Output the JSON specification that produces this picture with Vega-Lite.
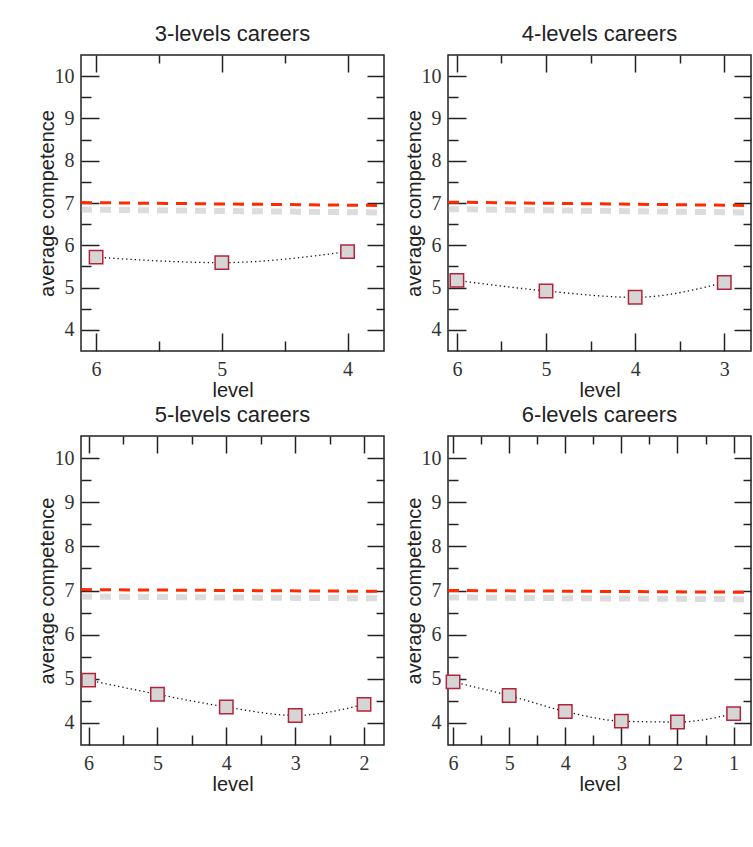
{
  "$schema": "https://vega.github.io/schema/vega-lite/v6.json",
  "background": "white",
  "padding": {"left": 36, "top": 22, "right": 0, "bottom": 0},
  "datasets": {
    "pts": [
      {"panel": 3, "level": 6, "comp": 5.72}, {"panel": 3, "level": 5, "comp": 5.59}, {"panel": 3, "level": 4, "comp": 5.85},
      {"panel": 4, "level": 6, "comp": 5.17}, {"panel": 4, "level": 5, "comp": 4.92}, {"panel": 4, "level": 4, "comp": 4.77}, {"panel": 4, "level": 3, "comp": 5.12},
      {"panel": 5, "level": 6, "comp": 4.97}, {"panel": 5, "level": 5, "comp": 4.65}, {"panel": 5, "level": 4, "comp": 4.36}, {"panel": 5, "level": 3, "comp": 4.17}, {"panel": 5, "level": 2, "comp": 4.42},
      {"panel": 6, "level": 6, "comp": 4.93}, {"panel": 6, "level": 5, "comp": 4.62}, {"panel": 6, "level": 4, "comp": 4.26}, {"panel": 6, "level": 3, "comp": 4.04}, {"panel": 6, "level": 2, "comp": 4.02}, {"panel": 6, "level": 1, "comp": 4.21}
    ],
    "ref": [
      {"panel": 3, "level": 6.12, "comp": 7.01}, {"panel": 3, "level": 3.71, "comp": 6.94},
      {"panel": 4, "level": 6.10, "comp": 7.02}, {"panel": 4, "level": 2.70, "comp": 6.94},
      {"panel": 5, "level": 6.11, "comp": 7.02}, {"panel": 5, "level": 1.71, "comp": 6.98},
      {"panel": 6, "level": 6.09, "comp": 7.00}, {"panel": 6, "level": 0.69, "comp": 6.96}
    ]
  },
  "columns": 2,
  "spacing": {"row": 2, "column": 17},
  "concat": [
    {
      "title": "3-levels careers",
      "width": 303, "height": 296,
      "resolve": {"axis": {"x": "independent", "y": "independent"}},
      "layer": [
        {
          "data": {"name": "ref"}, "transform": [{"filter": "datum.panel === 3"}],
          "mark": {"type": "line", "stroke": "#9a9a9a", "strokeWidth": 6, "opacity": 0.35, "strokeDash": [11, 8], "yOffset": 7, "clip": true},
          "encoding": {
            "x": {"field": "level", "type": "quantitative", "scale": {"domain": [3.71, 6.12], "reverse": true, "nice": false, "zero": false},
                  "axis": {"orient": "bottom", "values": [6, 5, 4], "tickSize": -18, "labelPadding": 26, "title": "level", "titlePadding": 1, "format": "d", "labelFlush": false}},
            "y": {"field": "comp", "type": "quantitative", "scale": {"domain": [3.5, 10.5], "nice": false, "zero": false},
                  "axis": {"orient": "left", "values": [4, 5, 6, 7, 8, 9, 10], "tickSize": -18, "labelPadding": 25, "title": "average competence", "titlePadding": -3, "format": "d", "labelFlush": false}}
          }
        },
        {
          "data": {"name": "ref"}, "transform": [{"filter": "datum.panel === 3"}],
          "mark": {"type": "line", "stroke": "#ff2a00", "strokeWidth": 3, "strokeDash": [11, 8], "clip": true},
          "encoding": {
            "x": {"field": "level", "type": "quantitative", "scale": {"domain": [3.71, 6.12], "reverse": true, "nice": false, "zero": false},
                  "axis": {"orient": "bottom", "values": [5.5, 4.5], "tickSize": -10, "labels": false, "title": null}},
            "y": {"field": "comp", "type": "quantitative", "scale": {"domain": [3.5, 10.5], "nice": false, "zero": false},
                  "axis": {"orient": "left", "values": [4.5, 5.5, 6.5, 7.5, 8.5, 9.5], "tickSize": -10, "labels": false, "title": null}}
          }
        },
        {
          "data": {"name": "pts"}, "transform": [{"filter": "datum.panel === 3"}],
          "mark": {"type": "line", "stroke": "#111", "strokeWidth": 1.3, "strokeDash": [1.3, 3], "interpolate": "monotone"},
          "encoding": {
            "x": {"field": "level", "type": "quantitative", "scale": {"domain": [3.71, 6.12], "reverse": true, "nice": false, "zero": false},
                  "axis": {"orient": "top", "values": [6, 5, 4], "tickSize": -17, "labels": false, "title": null}},
            "y": {"field": "comp", "type": "quantitative", "scale": {"domain": [3.5, 10.5], "nice": false, "zero": false},
                  "axis": {"orient": "right", "values": [4, 5, 6, 7, 8, 9, 10], "tickSize": -17, "labels": false, "title": null}}
          }
        },
        {
          "data": {"name": "pts"}, "transform": [{"filter": "datum.panel === 3"}],
          "mark": {"type": "point", "shape": "square", "filled": true, "fill": "#d5d5d5", "stroke": "#b3243a", "strokeWidth": 1.5, "size": 180, "opacity": 1},
          "encoding": {
            "x": {"field": "level", "type": "quantitative", "scale": {"domain": [3.71, 6.12], "reverse": true, "nice": false, "zero": false},
                  "axis": {"orient": "top", "values": [5.5, 4.5], "tickSize": -8, "labels": false, "title": null}},
            "y": {"field": "comp", "type": "quantitative", "scale": {"domain": [3.5, 10.5], "nice": false, "zero": false},
                  "axis": {"orient": "right", "values": [4.5, 5.5, 6.5, 7.5, 8.5, 9.5], "tickSize": -8, "labels": false, "title": null}}
          }
        }
      ]
    },
    {
      "title": "4-levels careers",
      "width": 303, "height": 296,
      "resolve": {"axis": {"x": "independent", "y": "independent"}},
      "layer": [
        {
          "data": {"name": "ref"}, "transform": [{"filter": "datum.panel === 4"}],
          "mark": {"type": "line", "stroke": "#9a9a9a", "strokeWidth": 6, "opacity": 0.35, "strokeDash": [11, 8], "yOffset": 7, "clip": true},
          "encoding": {
            "x": {"field": "level", "type": "quantitative", "scale": {"domain": [2.70, 6.10], "reverse": true, "nice": false, "zero": false},
                  "axis": {"orient": "bottom", "values": [6, 5, 4, 3], "tickSize": -18, "labelPadding": 26, "title": "level", "titlePadding": 1, "format": "d", "labelFlush": false}},
            "y": {"field": "comp", "type": "quantitative", "scale": {"domain": [3.5, 10.5], "nice": false, "zero": false},
                  "axis": {"orient": "left", "values": [4, 5, 6, 7, 8, 9, 10], "tickSize": -18, "labelPadding": 25, "title": "average competence", "titlePadding": -3, "format": "d", "labelFlush": false}}
          }
        },
        {
          "data": {"name": "ref"}, "transform": [{"filter": "datum.panel === 4"}],
          "mark": {"type": "line", "stroke": "#ff2a00", "strokeWidth": 3, "strokeDash": [11, 8], "clip": true},
          "encoding": {
            "x": {"field": "level", "type": "quantitative", "scale": {"domain": [2.70, 6.10], "reverse": true, "nice": false, "zero": false},
                  "axis": {"orient": "bottom", "values": [5.5, 4.5, 3.5], "tickSize": -10, "labels": false, "title": null}},
            "y": {"field": "comp", "type": "quantitative", "scale": {"domain": [3.5, 10.5], "nice": false, "zero": false},
                  "axis": {"orient": "left", "values": [4.5, 5.5, 6.5, 7.5, 8.5, 9.5], "tickSize": -10, "labels": false, "title": null}}
          }
        },
        {
          "data": {"name": "pts"}, "transform": [{"filter": "datum.panel === 4"}],
          "mark": {"type": "line", "stroke": "#111", "strokeWidth": 1.3, "strokeDash": [1.3, 3], "interpolate": "monotone"},
          "encoding": {
            "x": {"field": "level", "type": "quantitative", "scale": {"domain": [2.70, 6.10], "reverse": true, "nice": false, "zero": false},
                  "axis": {"orient": "top", "values": [6, 5, 4, 3], "tickSize": -17, "labels": false, "title": null}},
            "y": {"field": "comp", "type": "quantitative", "scale": {"domain": [3.5, 10.5], "nice": false, "zero": false},
                  "axis": {"orient": "right", "values": [4, 5, 6, 7, 8, 9, 10], "tickSize": -17, "labels": false, "title": null}}
          }
        },
        {
          "data": {"name": "pts"}, "transform": [{"filter": "datum.panel === 4"}],
          "mark": {"type": "point", "shape": "square", "filled": true, "fill": "#d5d5d5", "stroke": "#b3243a", "strokeWidth": 1.5, "size": 180, "opacity": 1},
          "encoding": {
            "x": {"field": "level", "type": "quantitative", "scale": {"domain": [2.70, 6.10], "reverse": true, "nice": false, "zero": false},
                  "axis": {"orient": "top", "values": [5.5, 4.5, 3.5], "tickSize": -8, "labels": false, "title": null}},
            "y": {"field": "comp", "type": "quantitative", "scale": {"domain": [3.5, 10.5], "nice": false, "zero": false},
                  "axis": {"orient": "right", "values": [4.5, 5.5, 6.5, 7.5, 8.5, 9.5], "tickSize": -8, "labels": false, "title": null}}
          }
        }
      ]
    },
    {
      "title": "5-levels careers",
      "width": 303, "height": 309,
      "resolve": {"axis": {"x": "independent", "y": "independent"}},
      "layer": [
        {
          "data": {"name": "ref"}, "transform": [{"filter": "datum.panel === 5"}],
          "mark": {"type": "line", "stroke": "#9a9a9a", "strokeWidth": 6, "opacity": 0.35, "strokeDash": [11, 8], "yOffset": 7, "clip": true},
          "encoding": {
            "x": {"field": "level", "type": "quantitative", "scale": {"domain": [1.71, 6.11], "reverse": true, "nice": false, "zero": false},
                  "axis": {"orient": "bottom", "values": [6, 5, 4, 3, 2], "tickSize": -18, "labelPadding": 26, "title": "level", "titlePadding": 1, "format": "d", "labelFlush": false}},
            "y": {"field": "comp", "type": "quantitative", "scale": {"domain": [3.5, 10.5], "nice": false, "zero": false},
                  "axis": {"orient": "left", "values": [4, 5, 6, 7, 8, 9, 10], "tickSize": -18, "labelPadding": 25, "title": "average competence", "titlePadding": -3, "format": "d", "labelFlush": false}}
          }
        },
        {
          "data": {"name": "ref"}, "transform": [{"filter": "datum.panel === 5"}],
          "mark": {"type": "line", "stroke": "#ff2a00", "strokeWidth": 3, "strokeDash": [11, 8], "clip": true},
          "encoding": {
            "x": {"field": "level", "type": "quantitative", "scale": {"domain": [1.71, 6.11], "reverse": true, "nice": false, "zero": false},
                  "axis": {"orient": "bottom", "values": [5.5, 4.5, 3.5, 2.5], "tickSize": -10, "labels": false, "title": null}},
            "y": {"field": "comp", "type": "quantitative", "scale": {"domain": [3.5, 10.5], "nice": false, "zero": false},
                  "axis": {"orient": "left", "values": [4.5, 5.5, 6.5, 7.5, 8.5, 9.5], "tickSize": -10, "labels": false, "title": null}}
          }
        },
        {
          "data": {"name": "pts"}, "transform": [{"filter": "datum.panel === 5"}],
          "mark": {"type": "line", "stroke": "#111", "strokeWidth": 1.3, "strokeDash": [1.3, 3], "interpolate": "monotone"},
          "encoding": {
            "x": {"field": "level", "type": "quantitative", "scale": {"domain": [1.71, 6.11], "reverse": true, "nice": false, "zero": false},
                  "axis": {"orient": "top", "values": [6, 5, 4, 3, 2], "tickSize": -17, "labels": false, "title": null}},
            "y": {"field": "comp", "type": "quantitative", "scale": {"domain": [3.5, 10.5], "nice": false, "zero": false},
                  "axis": {"orient": "right", "values": [4, 5, 6, 7, 8, 9, 10], "tickSize": -17, "labels": false, "title": null}}
          }
        },
        {
          "data": {"name": "pts"}, "transform": [{"filter": "datum.panel === 5"}],
          "mark": {"type": "point", "shape": "square", "filled": true, "fill": "#d5d5d5", "stroke": "#b3243a", "strokeWidth": 1.5, "size": 180, "opacity": 1},
          "encoding": {
            "x": {"field": "level", "type": "quantitative", "scale": {"domain": [1.71, 6.11], "reverse": true, "nice": false, "zero": false},
                  "axis": {"orient": "top", "values": [5.5, 4.5, 3.5, 2.5], "tickSize": -8, "labels": false, "title": null}},
            "y": {"field": "comp", "type": "quantitative", "scale": {"domain": [3.5, 10.5], "nice": false, "zero": false},
                  "axis": {"orient": "right", "values": [4.5, 5.5, 6.5, 7.5, 8.5, 9.5], "tickSize": -8, "labels": false, "title": null}}
          }
        }
      ]
    },
    {
      "title": "6-levels careers",
      "width": 303, "height": 309,
      "resolve": {"axis": {"x": "independent", "y": "independent"}},
      "layer": [
        {
          "data": {"name": "ref"}, "transform": [{"filter": "datum.panel === 6"}],
          "mark": {"type": "line", "stroke": "#9a9a9a", "strokeWidth": 6, "opacity": 0.35, "strokeDash": [11, 8], "yOffset": 7, "clip": true},
          "encoding": {
            "x": {"field": "level", "type": "quantitative", "scale": {"domain": [0.69, 6.09], "reverse": true, "nice": false, "zero": false},
                  "axis": {"orient": "bottom", "values": [6, 5, 4, 3, 2, 1], "tickSize": -18, "labelPadding": 26, "title": "level", "titlePadding": 1, "format": "d", "labelFlush": false}},
            "y": {"field": "comp", "type": "quantitative", "scale": {"domain": [3.5, 10.5], "nice": false, "zero": false},
                  "axis": {"orient": "left", "values": [4, 5, 6, 7, 8, 9, 10], "tickSize": -18, "labelPadding": 25, "title": "average competence", "titlePadding": -3, "format": "d", "labelFlush": false}}
          }
        },
        {
          "data": {"name": "ref"}, "transform": [{"filter": "datum.panel === 6"}],
          "mark": {"type": "line", "stroke": "#ff2a00", "strokeWidth": 3, "strokeDash": [11, 8], "clip": true},
          "encoding": {
            "x": {"field": "level", "type": "quantitative", "scale": {"domain": [0.69, 6.09], "reverse": true, "nice": false, "zero": false},
                  "axis": {"orient": "bottom", "values": [5.5, 4.5, 3.5, 2.5, 1.5], "tickSize": -10, "labels": false, "title": null}},
            "y": {"field": "comp", "type": "quantitative", "scale": {"domain": [3.5, 10.5], "nice": false, "zero": false},
                  "axis": {"orient": "left", "values": [4.5, 5.5, 6.5, 7.5, 8.5, 9.5], "tickSize": -10, "labels": false, "title": null}}
          }
        },
        {
          "data": {"name": "pts"}, "transform": [{"filter": "datum.panel === 6"}],
          "mark": {"type": "line", "stroke": "#111", "strokeWidth": 1.3, "strokeDash": [1.3, 3], "interpolate": "monotone"},
          "encoding": {
            "x": {"field": "level", "type": "quantitative", "scale": {"domain": [0.69, 6.09], "reverse": true, "nice": false, "zero": false},
                  "axis": {"orient": "top", "values": [6, 5, 4, 3, 2, 1], "tickSize": -17, "labels": false, "title": null}},
            "y": {"field": "comp", "type": "quantitative", "scale": {"domain": [3.5, 10.5], "nice": false, "zero": false},
                  "axis": {"orient": "right", "values": [4, 5, 6, 7, 8, 9, 10], "tickSize": -17, "labels": false, "title": null}}
          }
        },
        {
          "data": {"name": "pts"}, "transform": [{"filter": "datum.panel === 6"}],
          "mark": {"type": "point", "shape": "square", "filled": true, "fill": "#d5d5d5", "stroke": "#b3243a", "strokeWidth": 1.5, "size": 180, "opacity": 1},
          "encoding": {
            "x": {"field": "level", "type": "quantitative", "scale": {"domain": [0.69, 6.09], "reverse": true, "nice": false, "zero": false},
                  "axis": {"orient": "top", "values": [5.5, 4.5, 3.5, 2.5, 1.5], "tickSize": -8, "labels": false, "title": null}},
            "y": {"field": "comp", "type": "quantitative", "scale": {"domain": [3.5, 10.5], "nice": false, "zero": false},
                  "axis": {"orient": "right", "values": [4.5, 5.5, 6.5, 7.5, 8.5, 9.5], "tickSize": -8, "labels": false, "title": null}}
          }
        }
      ]
    }
  ],
  "config": {
    "view": {"stroke": "#222", "strokeWidth": 1.5},
    "axis": {"domain": false, "grid": false, "tickColor": "#222", "tickWidth": 1.5, "labelFont": "Liberation Serif", "labelFontSize": 20, "labelColor": "#333", "titleFont": "Liberation Sans", "titleFontSize": 20, "titleFontWeight": "normal", "titleColor": "#222"},
    "title": {"font": "Liberation Sans", "fontSize": 22, "fontWeight": "normal", "color": "#222", "offset": 8}
  }
}
